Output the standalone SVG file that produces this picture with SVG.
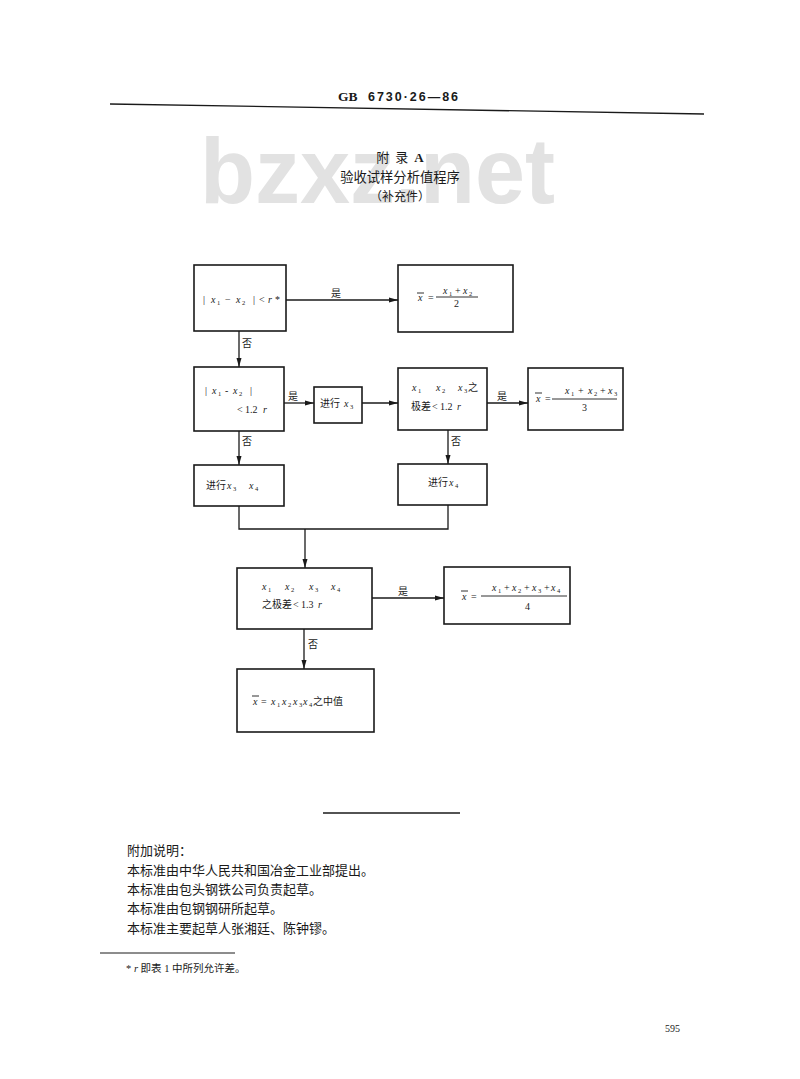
<svg xmlns="http://www.w3.org/2000/svg" width="800" height="1079" viewBox="0 0 800 1079">
<defs>
<style>
.box{fill:#fff;stroke:#1a1a1a;stroke-width:1.6}
.ln{stroke:#1a1a1a;stroke-width:1.3;fill:none}
.ol{stroke:#1a1a1a;stroke-width:0.9}
.t{font-family:"Liberation Serif","Noto Sans CJK SC",serif;font-size:10px;fill:#1a1a1a}
.c{font-family:"Noto Sans CJK SC",sans-serif;font-size:10px;fill:#1a1a1a}
.i{font-style:italic}
.s{font-size:6.5px}
.lbl{font-family:"Noto Sans CJK SC",sans-serif;font-size:10px;fill:#1a1a1a}
.hd{font-family:"Liberation Serif","Noto Sans CJK SC",serif;fill:#1a1a1a}
.wm{font-family:"Liberation Sans",sans-serif;font-weight:bold;font-size:92px;fill:#e2e2e2}
</style>
<marker id="ah" markerWidth="9" markerHeight="6" refX="9" refY="3" orient="auto" markerUnits="userSpaceOnUse">
<path d="M0,0.5 L9,3 L0,5.5 z" fill="#1a1a1a"/>
</marker>
</defs>
<rect width="800" height="1079" fill="#fff"/>
<text class="wm" x="200" y="203" textLength="355" lengthAdjust="spacingAndGlyphs">bzxz.net</text>

<g id="header">
<text class="hd" x="338" y="101" font-size="13.5" font-weight="bold">GB</text>
<text x="368" y="101" font-family="Liberation Sans, sans-serif" font-size="12.5" font-weight="bold" fill="#1a1a1a" textLength="90" lengthAdjust="spacing">6730·26—86</text>
<line x1="110" y1="104" x2="704" y2="114" stroke="#1a1a1a" stroke-width="1.3"/>
<text class="hd" x="400" y="162" text-anchor="middle" font-size="13" letter-spacing="6">附录<tspan font-weight="bold" letter-spacing="0">A</tspan></text>
<text class="hd" x="400" y="182" text-anchor="middle" font-size="13.3">验收试样分析值程序</text>
<text class="hd" x="400" y="201" text-anchor="middle" font-size="12">（补充件）</text>
</g>

<g id="connectors">
<path class="ln" d="M286,300 H398" marker-end="url(#ah)"/>
<path class="ln" d="M239,331 V367" marker-end="url(#ah)"/>
<path class="ln" d="M284,403 H314" marker-end="url(#ah)"/>
<path class="ln" d="M362,403 H398" marker-end="url(#ah)"/>
<path class="ln" d="M487,403 H528" marker-end="url(#ah)"/>
<path class="ln" d="M239,431 V465" marker-end="url(#ah)"/>
<path class="ln" d="M448,430 V464" marker-end="url(#ah)"/>
<path class="ln" d="M239,506 V529 H448 V505"/>
<path class="ln" d="M305,529 V568" marker-end="url(#ah)"/>
<path class="ln" d="M372,598 H444" marker-end="url(#ah)"/>
<path class="ln" d="M304,629 V669" marker-end="url(#ah)"/>
<text class="lbl" x="331" y="297">是</text>
<text class="lbl" x="242" y="347">否</text>
<text class="lbl" x="288" y="400">是</text>
<text class="lbl" x="497" y="400">是</text>
<text class="lbl" x="242" y="445">否</text>
<text class="lbl" x="451" y="445">否</text>
<text class="lbl" x="398" y="595">是</text>
<text class="lbl" x="308" y="648">否</text>
</g>

<g id="n1">
<rect class="box" x="194" y="265" width="92" height="66"/>
<text class="t" y="303"><tspan x="203">|</tspan><tspan x="211" class="i">x</tspan><tspan x="217" dy="2" class="s">1</tspan><tspan x="225" dy="-2">−</tspan><tspan x="236" class="i">x</tspan><tspan x="242" dy="2" class="s">2</tspan><tspan x="253" dy="-2">|</tspan><tspan x="259">&lt;</tspan><tspan x="268" class="i">r</tspan><tspan x="275">*</tspan></text>
</g>

<g id="n2">
<rect class="box" x="398" y="265" width="115" height="67"/>
<text class="t" y="301"><tspan x="418" class="i">x</tspan><tspan x="428">=</tspan></text>
<line class="ol" x1="417" y1="293" x2="424" y2="293"/>
<line class="ol" x1="436" y1="297" x2="478" y2="297"/>
<text class="t" y="294"><tspan x="443" class="i">x</tspan><tspan x="449" dy="2" class="s">1</tspan><tspan x="455" dy="-2">+</tspan><tspan x="463" class="i">x</tspan><tspan x="469" dy="2" class="s">2</tspan></text>
<text class="t" x="454" y="307">2</text>
</g>

<g id="n3">
<rect class="box" x="194" y="367" width="90" height="64"/>
<text class="t" y="394"><tspan x="205">|</tspan><tspan x="212" class="i">x</tspan><tspan x="218" dy="2" class="s">1</tspan><tspan x="225" dy="-2">-</tspan><tspan x="233" class="i">x</tspan><tspan x="239" dy="2" class="s">2</tspan><tspan x="250" dy="-2">|</tspan></text>
<text class="t" y="413"><tspan x="237">&lt;</tspan><tspan x="245">1.2</tspan><tspan x="263" class="i">r</tspan></text>
</g>

<g id="n4">
<rect class="box" x="314" y="387" width="48" height="36"/>
<text class="t" y="407"><tspan x="320" class="c">进行</tspan><tspan x="344" class="i">x</tspan><tspan x="350" dy="2" class="s">3</tspan></text>
</g>

<g id="n5">
<rect class="box" x="398" y="368" width="89" height="62"/>
<text class="t" y="391"><tspan x="412" class="i">x</tspan><tspan x="418" dy="2" class="s">1</tspan><tspan x="436" dy="-2" class="i">x</tspan><tspan x="442" dy="2" class="s">2</tspan><tspan x="458" dy="-2" class="i">x</tspan><tspan x="464" dy="2" class="s">3</tspan><tspan x="468" dy="-2" class="c">之</tspan></text>
<text class="t" y="410"><tspan x="411" class="c">极差</tspan><tspan x="432">&lt;</tspan><tspan x="440">1.2</tspan><tspan x="457" class="i">r</tspan></text>
</g>

<g id="n6">
<rect class="box" x="528" y="368" width="95" height="62"/>
<text class="t" y="402"><tspan x="536" class="i">x</tspan><tspan x="545">=</tspan></text>
<line class="ol" x1="535" y1="393" x2="542" y2="393"/>
<line class="ol" x1="552" y1="399" x2="617" y2="399"/>
<text class="t" y="394"><tspan x="565" class="i">x</tspan><tspan x="571" dy="2" class="s">1</tspan><tspan x="578" dy="-2">+</tspan><tspan x="588" class="i">x</tspan><tspan x="594" dy="2" class="s">2</tspan><tspan x="600" dy="-2">+</tspan><tspan x="608" class="i">x</tspan><tspan x="614" dy="2" class="s">3</tspan></text>
<text class="t" x="582" y="411">3</text>
</g>

<g id="n7">
<rect class="box" x="194" y="465" width="90" height="41"/>
<text class="t" y="489"><tspan x="206" class="c">进行</tspan><tspan x="227" class="i">x</tspan><tspan x="233" dy="2" class="s">3</tspan><tspan x="249" dy="-2" class="i">x</tspan><tspan x="255" dy="2" class="s">4</tspan></text>
</g>

<g id="n8">
<rect class="box" x="398" y="464" width="89" height="41"/>
<text class="t" y="486"><tspan x="428" class="c">进行</tspan><tspan x="449" class="i">x</tspan><tspan x="455" dy="2" class="s">4</tspan></text>
</g>

<g id="n9">
<rect class="box" x="237" y="568" width="135" height="61"/>
<text class="t" y="590"><tspan x="262" class="i">x</tspan><tspan x="268" dy="2" class="s">1</tspan><tspan x="285" dy="-2" class="i">x</tspan><tspan x="291" dy="2" class="s">2</tspan><tspan x="309" dy="-2" class="i">x</tspan><tspan x="315" dy="2" class="s">3</tspan><tspan x="331" dy="-2" class="i">x</tspan><tspan x="337" dy="2" class="s">4</tspan></text>
<text class="t" y="608"><tspan x="262" class="c">之极差</tspan><tspan x="293">&lt;</tspan><tspan x="301">1.3</tspan><tspan x="318" class="i">r</tspan></text>
</g>

<g id="n10">
<rect class="box" x="444" y="567" width="126" height="57"/>
<text class="t" y="600"><tspan x="462" class="i">x</tspan><tspan x="471">=</tspan></text>
<line class="ol" x1="461" y1="591" x2="468" y2="591"/>
<line class="ol" x1="481" y1="596" x2="567" y2="596"/>
<text class="t" y="591"><tspan x="492" class="i">x</tspan><tspan x="498" dy="2" class="s">1</tspan><tspan x="504" dy="-2">+</tspan><tspan x="512" class="i">x</tspan><tspan x="518" dy="2" class="s">2</tspan><tspan x="524" dy="-2">+</tspan><tspan x="532" class="i">x</tspan><tspan x="538" dy="2" class="s">3</tspan><tspan x="544" dy="-2">+</tspan><tspan x="551" class="i">x</tspan><tspan x="557" dy="2" class="s">4</tspan></text>
<text class="t" x="525" y="610">4</text>
</g>

<g id="n11">
<rect class="box" x="237" y="669" width="137" height="63"/>
<text class="t" y="705"><tspan x="253" class="i">x</tspan><tspan x="261">=</tspan><tspan x="271" class="i">x</tspan><tspan x="277" dy="2" class="s">1</tspan><tspan x="282" dy="-2" class="i">x</tspan><tspan x="288" dy="2" class="s">2</tspan><tspan x="293" dy="-2" class="i">x</tspan><tspan x="299" dy="2" class="s">3</tspan><tspan x="303" dy="-2" class="i">x</tspan><tspan x="309" dy="2" class="s">4</tspan><tspan x="313" dy="-2" class="c">之中值</tspan></text>
<line class="ol" x1="252" y1="696" x2="259" y2="696"/>
</g>

<g id="notes">
<line x1="323" y1="813" x2="460" y2="813" stroke="#1a1a1a" stroke-width="1.3"/>
<text class="hd" x="127" y="855" font-size="13">附加说明：</text>
<text class="hd" x="127" y="875" font-size="13">本标准由中华人民共和国冶金工业部提出。</text>
<text class="hd" x="127" y="894" font-size="13">本标准由包头钢铁公司负责起草。</text>
<text class="hd" x="127" y="913" font-size="13">本标准由包钢钢研所起草。</text>
<text class="hd" x="127" y="933" font-size="13">本标准主要起草人张湘廷、陈钟镠。</text>
<line x1="100" y1="953" x2="235" y2="953" stroke="#1a1a1a" stroke-width="1"/>
<text class="hd" x="126" y="972" font-size="10.5">* <tspan font-style="italic">r</tspan> 即表 1 中所列允许差。</text>
<text class="hd" x="665" y="1032" font-size="10" fill="#b5b5b5">595</text>
</g>
</svg>
